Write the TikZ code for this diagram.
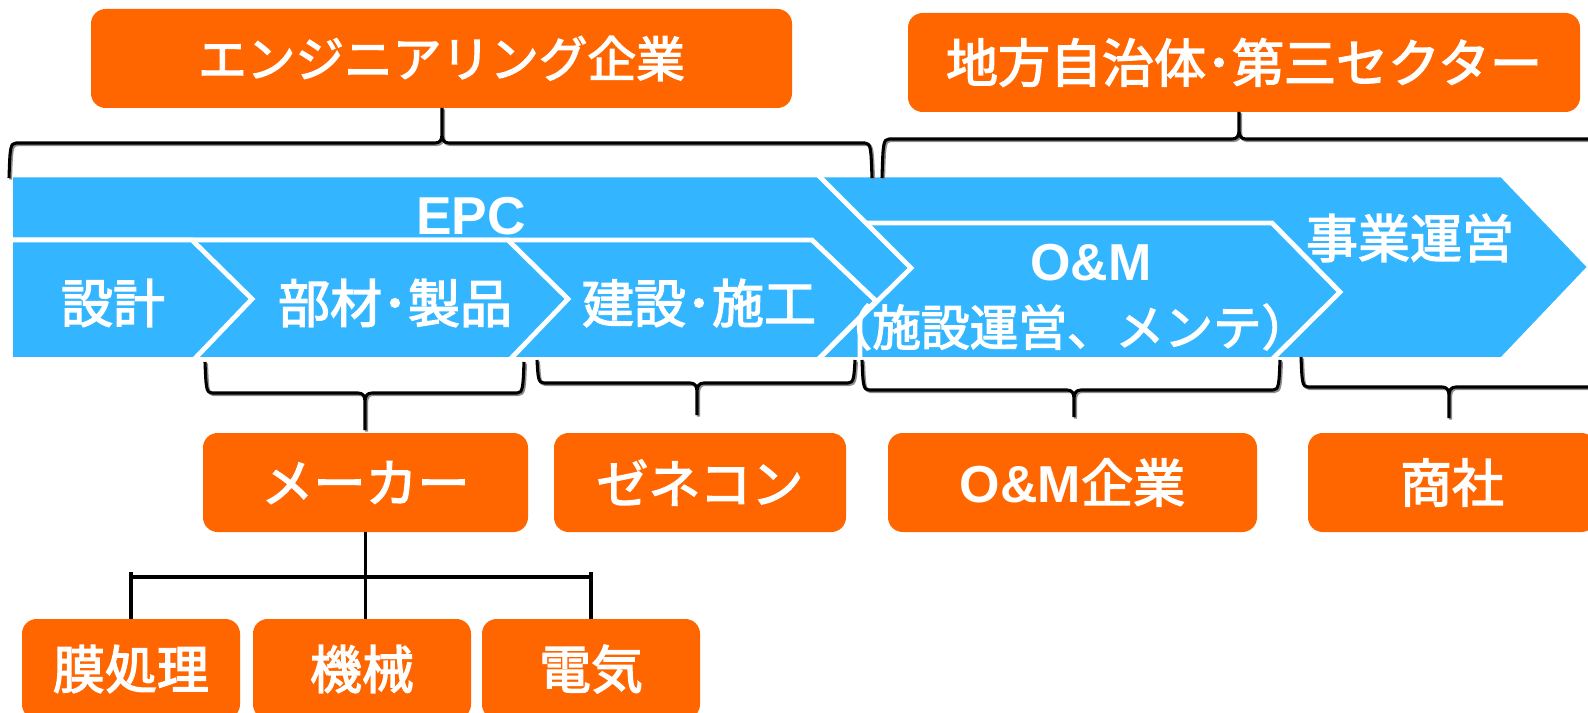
\documentclass[tikz,border=0pt]{standalone}
\usepackage{fontspec}
\setmainfont{Noto Sans CJK JP}
\newfontfamily\jpfont{Noto Sans CJK JP}[FakeBold=2.6]
\newfontfamily\latfont{Liberation Sans}
\definecolor{chev}{HTML}{33B6FF}
\definecolor{org}{HTML}{FF6600}
\newcommand\jpL{\jpfont\fontsize{39pt}{44pt}\selectfont}
\newcommand\jpM{\jpfont\fontsize{36.5pt}{42pt}\selectfont}
\newcommand\drawbrace[7]{%
  \draw[braceshadow] (#1,#3) .. controls ({#1+1},{#4-#7*6}) and ({#1+1},#4) .. ({#1+7},#4) -- ({#5-7},#4) .. controls ({#5-2},#4) and (#5,{#4+#7*3}) .. (#5,{#4+#7*9}) -- (#5,#6)
    (#5,{#4+#7*9}) .. controls (#5,{#4+#7*3}) and ({#5+2},#4) .. ({#5+7},#4) -- ({#2-7},#4) .. controls ({#2-1},#4) and ({#2-1},{#4-#7*6}) .. (#2,#3);
  \draw[bracestroke] (#1,#3) .. controls ({#1+1},{#4-#7*6}) and ({#1+1},#4) .. ({#1+7},#4) -- ({#5-7},#4) .. controls ({#5-2},#4) and (#5,{#4+#7*3}) .. (#5,{#4+#7*9}) -- (#5,#6)
    (#5,{#4+#7*9}) .. controls (#5,{#4+#7*3}) and ({#5+2},#4) .. ({#5+7},#4) -- ({#2-7},#4) .. controls ({#2-1},#4) and ({#2-1},{#4-#7*6}) .. (#2,#3);
}
\begin{document}
\begin{tikzpicture}[x=0.75pt,y=-0.75pt,
  chevron/.style={fill=chev, draw=white, line width=3.6pt, line join=miter},
  obox/.style={fill=org, rounded corners=11pt, inner sep=0pt, text=white, font=\jpL},
  wt/.style={inner sep=0pt, text=white, font=\jpL},
  bracestroke/.style={draw=black, line width=2.3pt, line join=round},
  braceshadow/.style={draw=black!45, line width=2.3pt, line join=round, shift={(1.5,1.5)}},
  tree/.style={draw=black, line width=2.6pt}]
\useasboundingbox (0,0) rectangle (1588,713);
% chevrons (back to front)
\path[chevron] (10.5,175) -- (1502,175) -- (1590,267) -- (1502,359.5) -- (10.5,359.5) -- cycle;
\path[chevron] (860,223) -- (1272,223) -- (1340,292) -- (1272,359.5) -- (860,359.5) -- cycle;
\path[chevron] (10.5,175) -- (818,175) -- (911,268) -- (818,359.5) -- (10.5,359.5) -- cycle;
\path[chevron] (10.5,240) -- (812,240) -- (876,301) -- (818,359.5) -- (10.5,359.5) -- cycle;
\path[chevron] (10.5,240) -- (508,240) -- (568,299) -- (510,359.5) -- (10.5,359.5) -- cycle;
\path[chevron] (10.5,240) -- (192,240) -- (252,299) -- (194,359.5) -- (10.5,359.5) -- cycle;
% chevron labels
\node[wt, font=\latfont\fontsize{40pt}{44pt}\selectfont\bfseries] (tepc) at (471,216) {EPC};
\node[wt] (tsek) at (113,303) {設計};
\node[wt] (tbuz) at (395,303) {部材･製品};
\node[wt] (tken) at (699,303) {建設･施工};
\node[wt, font=\latfont\fontsize{39pt}{44pt}\selectfont\bfseries] (tom) at (1091,263) {O\&M};
\node[wt, font=\jpM] (tomsub) at (1067,327) {（施設運営、メンテ）};
\node[wt] (tjig) at (1410,238) {事業運営};
% top boxes
\node[obox, font=\jpM, minimum width=701*0.75pt, minimum height=99*0.75pt] (eng) at (441.5,58.5) {エンジニアリング企業};
\node[obox, font=\jpL, minimum width=672*0.75pt, minimum height=99*0.75pt] (loc) at (1244,62.5) {地方自治体･第三セクター};
% middle boxes
\node[obox, minimum width=325*0.75pt, minimum height=99*0.75pt] (maker) at (365.5,482.5) {メーカー};
\node[obox, minimum width=292*0.75pt, minimum height=99*0.75pt] (gene) at (700,482.5) {ゼネコン};
\node[obox, minimum width=369*0.75pt, minimum height=99*0.75pt] (omk) at (1072.5,482.5) {{\latfont\bfseries O\&M}企業};
\node[obox, minimum width=288*0.75pt, minimum height=99*0.75pt] (shosha) at (1452,482.5) {商社};
% bottom boxes
\node[obox, minimum width=218*0.75pt, minimum height=100*0.75pt] (maku) at (131,669) {膜処理};
\node[obox, minimum width=218*0.75pt, minimum height=100*0.75pt] (kikai) at (362,669) {機械};
\node[obox, minimum width=218*0.75pt, minimum height=100*0.75pt] (denki) at (591,669) {電気};
% braces
\drawbrace{9}{872}{178}{143}{442}{108}{-1}
\drawbrace{882}{1640}{178}{139}{1239}{112}{-1}
\drawbrace{205}{524}{362}{393}{365}{430}{1}
\drawbrace{537}{855}{360}{383}{697}{415}{1}
\drawbrace{862}{1280}{360}{390}{1074}{417}{1}
\drawbrace{1301}{1640}{357}{387}{1449}{418}{1}
% tree
\coordinate (tl) at (131,577);
\coordinate (tr) at (591,577);
\draw[tree] (maker.south) -- (maker.south |- kikai.north);
\draw[tree] (tl) -- (tr);
\draw[tree] ([yshift=3.75pt]tl) -- (maku.north);
\draw[tree] ([yshift=3.75pt]tr) -- (denki.north);
\end{tikzpicture}
\end{document}
